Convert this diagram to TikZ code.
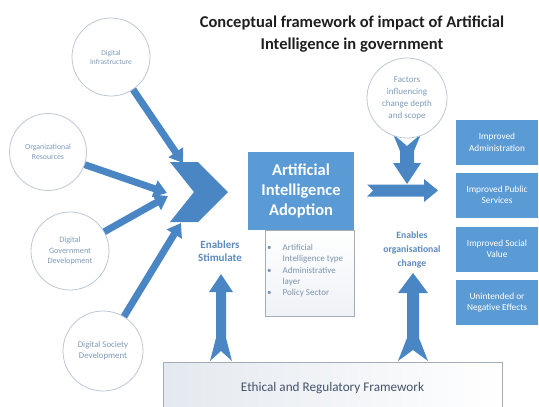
\documentclass[tikz,border=0pt]{standalone}
\usepackage{fontspec}
\setmainfont{Carlito}
\usetikzlibrary{arrows.meta}
\definecolor{boxblue}{HTML}{5B9BD5}
\definecolor{arrblue}{HTML}{4A86C4}
\definecolor{circline}{HTML}{BCC8D6}
\definecolor{circtext}{HTML}{7F9CBA}
\definecolor{bultext}{HTML}{7D93AE}
\definecolor{enabtext}{HTML}{5A8AC0}
\definecolor{ethtext}{HTML}{44546A}
\definecolor{ethline}{HTML}{A3ADB8}
\definecolor{ethfill}{HTML}{E4E9EF}
\begin{document}
\begin{tikzpicture}[x=1pt,y=-1pt,
  circ/.style={circle,draw=circline,line width=0.8pt,fill=white,inner sep=0pt,minimum size=#1,text=circtext,font=\fontsize{7.5}{9}\selectfont,align=center},
  thickarrow/.style={draw=arrblue,line width=7pt,-{Triangle[length=13pt,width=17pt]}},
  outbox/.style={fill=boxblue,minimum width=82pt,minimum height=45pt,text=white,font=\fontsize{9.3}{11.5}\selectfont,align=center,inner sep=0pt},
  bluetext/.style={text=enabtext,align=center}
]
\useasboundingbox (0,0) rectangle (539,407);

% title
\node[font=\bfseries\fontsize{16.5}{22}\selectfont,align=center,text=black!88] (title) at (352,34)
  {Conceptual framework of impact of Artificial\\Intelligence in government};

% chevron
\fill[arrblue] (170,162) -- (198,162) -- (228,192) -- (198,222) -- (170,222) -- (194,192) -- cycle;

% circles (left)
\node[circ=78pt] (infra) at (111,57) {Digital\\Infrastructure};
\node[circ=77pt,font=\fontsize{7.8}{10}\selectfont] (orgres) at (48,152) {Organizational\\Resources};
\node[circ=78pt,font=\fontsize{8.2}{10.5}\selectfont] (digov) at (70,251) {Digital\\Government\\Development};
\node[circ=80pt,font=\fontsize{8.8}{11}\selectfont] (digsoc) at (103,351) {Digital Society\\Development};

\coordinate (t1) at (183,163);
\coordinate (t2) at (167,193);
\coordinate (t3) at (168,196);
\coordinate (t4) at (181,223);
\draw[thickarrow] (infra) -- (t1);
\draw[thickarrow] (orgres) -- (t2);
\draw[thickarrow] (digov) -- (t3);
\draw[thickarrow] (digsoc) -- (t4);

% factors down arrow (under circle)
\fill[arrblue] (393,134) -- (407,146) -- (421,134) -- (414,151) -- (414,163) -- (421,163)
  -- (407,184) -- (393,163) -- (400,163) -- (400,151) -- cycle;
\node[circ=80pt,font=\fontsize{9}{12}\selectfont] (factors) at (407,98) {Factors\\influencing\\change depth\\and scope};

% right arrow
\fill[arrblue] (367,184.5) -- (424,184.5) -- (424,179) -- (438,190.5) -- (424,202)
  -- (424,196.5) -- (367,196.5) -- (373,190.5) -- cycle;

% up arrows
\fill[arrblue] (221,274) -- (233,292) -- (226,292) -- (226,338) -- (232,361) -- (221,351)
  -- (210,361) -- (216,338) -- (216,292) -- (209,292) -- cycle;
\fill[arrblue] (413,273) -- (428,293) -- (419,293) -- (419,338) -- (428,361) -- (413,350)
  -- (398,361) -- (407,338) -- (407,293) -- (398,293) -- cycle;

% bullets box and AI box
\node[draw=ethline,line width=0.6pt,top color=white,bottom color=ethfill!60,minimum width=89pt,minimum height=86pt,inner sep=0pt] (bulbox) at (309.5,273) {};
\node[fill=boxblue,minimum width=106pt,minimum height=78pt,inner sep=0pt,text=white,
  font=\bfseries\fontsize{16.5}{20}\selectfont,align=center] (ai) at (301,191) {Artificial\\Intelligence\\Adoption};
\node[anchor=north west,inner sep=0pt,text=bultext,font=\fontsize{9}{11.3}\selectfont] (bultxt) at (267,242.5)
  {\begin{tabular}{@{}l@{\hspace{11pt}}l@{}}
   \textbullet & Artificial\\
               & Intelligence type\\
   \textbullet & Administrative\\
               & layer\\
   \textbullet & Policy Sector
   \end{tabular}};

% labels
\node[bluetext,font=\bfseries\fontsize{11}{13}\selectfont] (enab) at (220,251) {Enablers\\Stimulate};
\node[bluetext,font=\bfseries\fontsize{9.7}{14}\selectfont] (orgch) at (412,250) {Enables\\organisational\\change};

% outcome boxes
\node[outbox] (out1) at (497,142.5) {Improved\\Administration};
\node[outbox] (out2) at (497,195) {Improved Public\\Services};
\node[outbox] (out3) at (497,249) {Improved Social\\Value};
\node[outbox] (out4) at (497,302.5) {Unintended or\\Negative Effects};

% ethical framework
\begin{scope}
\clip (0,0) rectangle (539,407);
\node[draw=ethline,line width=0.8pt,left color=ethfill,right color=white,minimum width=339pt,minimum height=52pt,inner sep=0pt,
  text=ethtext,font=\fontsize{13.2}{15}\selectfont] (eth) at (332.5,388) {Ethical and Regulatory Framework};
\end{scope}
\end{tikzpicture}
\end{document}
